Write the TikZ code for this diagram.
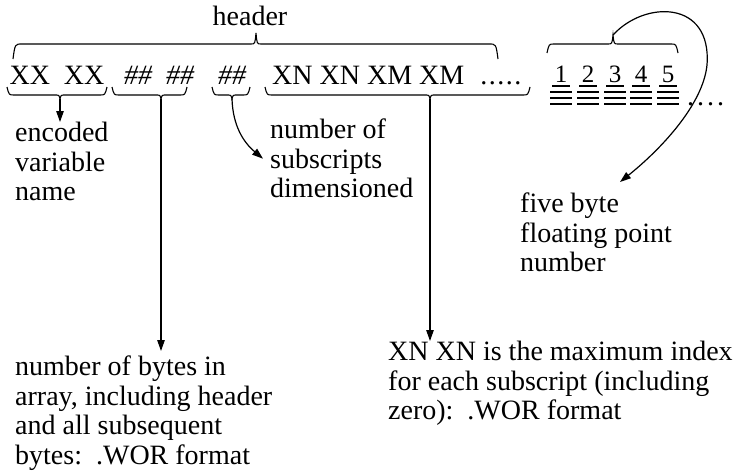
\documentclass[tikz,border=0pt]{standalone}
\usepackage{fontspec}
\setmainfont{Liberation Serif}
\usetikzlibrary{arrows.meta}
\tikzset{
  txt/.style={inner sep=0pt, font=\fontsize{28}{29.5}\selectfont, align=left},
  digit/.style={inner sep=0pt, font=\fontsize{25}{25}\selectfont},
  bracestyle/.style={line width=1.1pt},
  bar/.style={line width=1.6pt},
  arr/.style={line width=1.2pt, -{Triangle[length=11pt,width=7.5pt]}}
}
% #1 name, #2 left x, #3 right x, #4 tip x, #5 end y, #6 line y, #7 tip y, #8 curl
\newcommand{\curlybrace}[8]{%
  \draw[bracestyle] (#2,#5) .. controls (#2+2,#6) .. (#2+#8,#6) -- (#4-5,#6)
    .. controls (#4-1,#6) .. (#4,#7) .. controls (#4+1,#6) .. (#4+5,#6)
    -- (#3-#8,#6) .. controls (#3-2,#6) .. (#3,#5);
  \coordinate (#1) at (#4,#7);}

\begin{document}
\begin{tikzpicture}[x=1pt,y=-1pt]
\useasboundingbox (0,0) rectangle (740,471);

%Header
\node[txt] (head) at (250,16) {header};
\curlybrace{th}{13}{498}{256}{59}{44}{33}{9}

%Entry row
\node[txt, anchor=base] (g1) at (57,84) {XX\ \ XX};
\node[txt, anchor=base] (g2) at (159,84) {\itshape \#\#\ \ \#\#};
\node[txt, anchor=base] (g3) at (232,84) {\itshape \#\#};
\node[txt, anchor=base west] (g4) at (272,84) {XN XN XM XM\hspace{16pt}.\kern1.5pt.\kern1.5pt.\kern1.5pt.\kern1.5pt.};
\curlybrace{t1}{7}{107}{60}{87}{95}{99}{7}
\curlybrace{t2}{112}{187}{161}{87}{95}{99}{7}
\curlybrace{t3}{212}{250}{232}{87}{95}{99}{7}
\curlybrace{t4}{265}{530}{430}{87}{95}{99}{7}

%Five bytes
\foreach \i/\x in {1/561,2/588,3/615,4/641,5/668} {
  \node[digit, anchor=base] (d\i) at (\x,82) {\i};
  \draw[bar] (\x-9,86) -- (\x+9,86);
  \foreach \y in {92,98,104}
    \draw[bar] (\x-11,\y) -- (\x+11,\y);
}
\node[txt, anchor=base west] (tdots) at (687,105) {.\kern3pt.\kern3pt.\kern3pt.};
\curlybrace{t5}{547}{678}{613}{53}{44}{35}{7}

%Labels
\node[txt, anchor=north west] (enc) at (15,122) {encoded\\variable\\name};
\node[txt, anchor=north west] (nsub) at (270,119) {number of\\subscripts\\dimensioned};
\node[txt, anchor=north west] (fb) at (520,193) {five byte\\floating point\\number};
\node[txt, anchor=north west] (nbytes) at (15,356) {number of bytes in\\array, including header\\and all subsequent\\bytes:\ \ .WOR format};
\node[txt, anchor=north west] (maxidx) at (388,341) {XN XN is the maximum index\\for each subscript (including\\zero):\ \ .WOR format};
\coordinate (a5) at (620,182);

%Arrows
\draw[arr] (t1) -- (t1 |- enc.north);
\draw[arr] (t2) -- ([yshift=5pt]t2 |- nbytes.north);
\draw[arr] (t3) to[out=-88, in=140] ([xshift=-7pt]nsub.west);
\draw[arr] (t4) -- (t4 |- maxidx.north);
\draw[arr] (t5) .. controls (645,0) and (712,0) .. (707,65)
  .. controls (703,105) and (660,150) .. (a5);
\end{tikzpicture}
\end{document}
